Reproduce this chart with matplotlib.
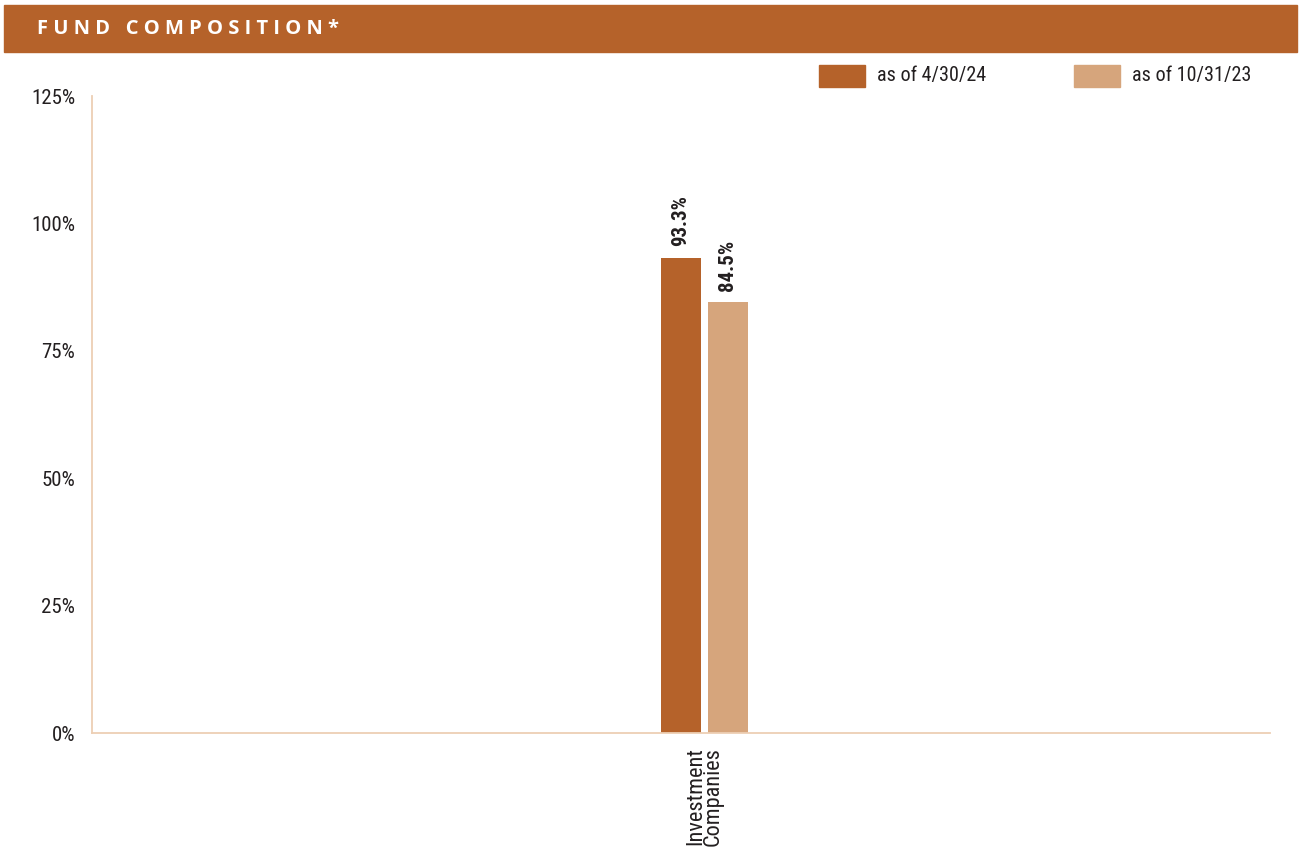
import matplotlib.pyplot as plt
from matplotlib.patches import Rectangle

categories = ["Investment\nCompanies"]
series_labels = ["as of 4/30/24", "as of 10/31/23"]
values_current = [93.3]
values_prior = [84.5]
y_ticks = [0, 25, 50, 75, 100, 125]

DARK = "#B5622A"
LIGHT = "#D6A57C"
AXIS = "#EDCFB4"
TEXT = "#231F20"
NARROW = ["Roboto Condensed", "Liberation Sans Narrow", "DejaVu Sans"]
ST = "condensed"

fig = plt.figure(figsize=(13, 8.47), dpi=100)

# header band
fig.patches.append(Rectangle((4 / 1300, 1 - 52 / 847), 1293 / 1300, 47 / 847,
                             transform=fig.transFigure, color=DARK, zorder=0))
fig.text(37 / 1300, 1 - 29 / 847, " ".join("FUND") + "   " + " ".join("COMPOSITION*"),
         color="white", fontsize=14.5, fontweight="bold", family=["Open Sans", "DejaVu Sans"],
         va="center", ha="left")

ax = fig.add_axes([92 / 1300, 1 - 733 / 847, 1178 / 1300, (733 - 96) / 847])
bar_w = 40 / 589
x0 = 0.0
x1 = 47 / 589
ax.bar([x0], values_current, width=bar_w, color=DARK, label=series_labels[0])
ax.bar([x1], values_prior, width=bar_w, color=LIGHT, label=series_labels[1])

for x, v in [(x0, values_current[0]), (x1, values_prior[0])]:
    ax.annotate(f"{v}%", (x, v), xytext=(0, 8), textcoords="offset points",
                rotation=90, ha="center", va="bottom", fontsize=15, fontweight="bold",
                color=TEXT, family=NARROW, fontstretch=ST)

ax.set_xlim(-1, 1)
ax.set_ylim(0, 125)
ax.set_yticks(y_ticks)
ax.set_yticklabels([f"{t}%" for t in y_ticks], family=NARROW, fontsize=15, color=TEXT,
                   fontstretch=ST)
ax.set_xticks([(x0 + x1) / 2])
ax.set_xticklabels(categories, rotation=90, family=NARROW, fontsize=16, color=TEXT,
                   va="top", ha="center", multialignment="right", linespacing=0.8,
                   fontstretch=ST)
ax.tick_params(axis="y", length=0, pad=12)
ax.tick_params(axis="x", length=0, pad=10)
for s in ["top", "right"]:
    ax.spines[s].set_visible(False)
for s in ["left", "bottom"]:
    ax.spines[s].set_color(AXIS)
    ax.spines[s].set_linewidth(1.3)

# legend
for px, lab, col in [(819, series_labels[0], DARK), (1074, series_labels[1], LIGHT)]:
    fig.patches.append(Rectangle((px / 1300, 1 - 87 / 847), 46 / 1300, 22 / 847,
                                 transform=fig.transFigure, color=col))
    fig.text((px + 58) / 1300, 1 - 76 / 847, lab, family=NARROW, fontsize=14.5,
             color=TEXT, va="center", ha="left", fontstretch=ST)

fig.savefig("out.png", dpi=100)
